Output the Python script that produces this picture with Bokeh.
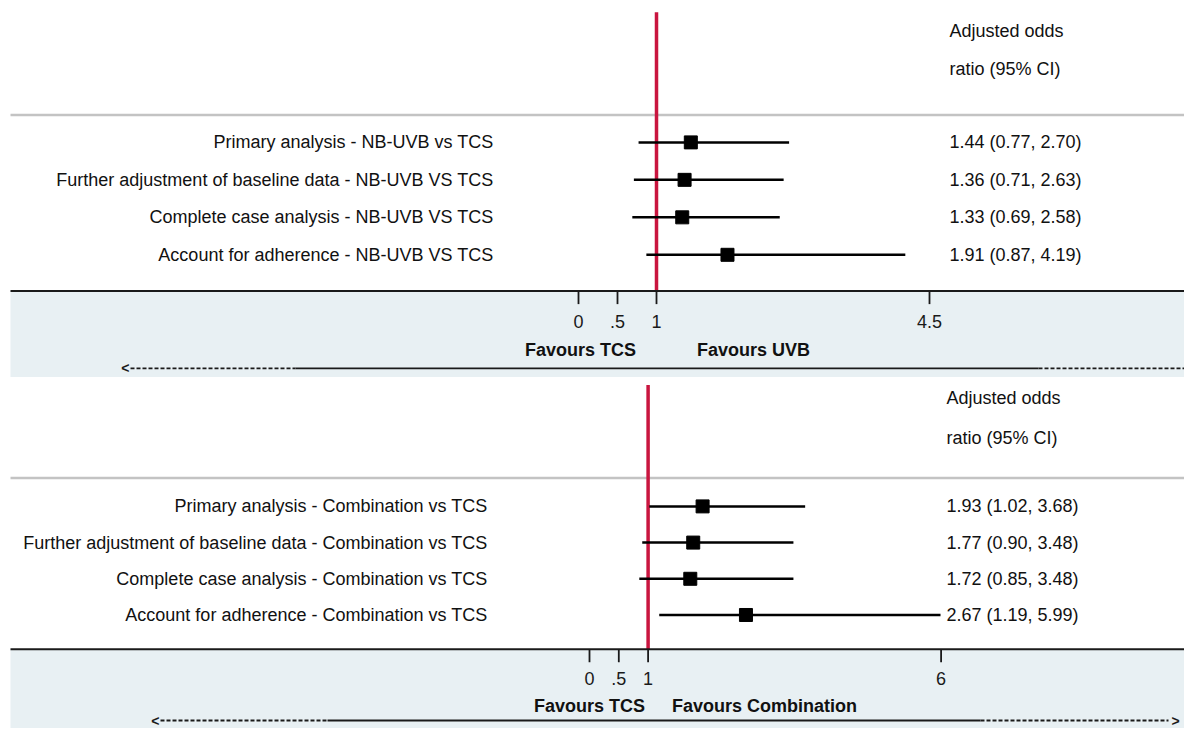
from bokeh.plotting import figure
from bokeh.models import Range1d, ColumnDataSource
from bokeh.layouts import column
from bokeh.embed import file_html
from bokeh.resources import INLINE
from bokeh.core.properties import value

# ---------------- data ----------------
labels_uvb = [
    "Primary analysis - NB-UVB vs TCS",
    "Further adjustment of baseline data - NB-UVB VS TCS",
    "Complete case analysis - NB-UVB VS TCS",
    "Account for adherence - NB-UVB VS TCS",
]
or_uvb = [1.44, 1.36, 1.33, 1.91]
lo_uvb = [0.77, 0.71, 0.69, 0.87]
hi_uvb = [2.70, 2.63, 2.58, 4.19]
ticks_uvb = [0, 0.5, 1, 4.5]
tick_labels_uvb = ["0", ".5", "1", "4.5"]

labels_comb = [
    "Primary analysis - Combination vs TCS",
    "Further adjustment of baseline data - Combination vs TCS",
    "Complete case analysis - Combination vs TCS",
    "Account for adherence - Combination vs TCS",
]
or_comb = [1.93, 1.77, 1.72, 2.67]
lo_comb = [1.02, 0.90, 0.85, 1.19]
hi_comb = [3.68, 3.48, 3.48, 5.99]
ticks_comb = [0, 0.5, 1, 6]
tick_labels_comb = ["0", ".5", "1", "6"]

header = ["Adjusted odds", "ratio (95% CI)"]
favours_uvb = ["Favours TCS", "Favours UVB"]
favours_comb = ["Favours TCS", "Favours Combination"]

W = 1184
TOTAL_H = 728
FONT = "Liberation Sans"
FS = "18px"
PANEL = "#e8f0f3"
RED = "#c9153f"
K = TOTAL_H / 744.0  # vertical compression to fit the window


def panel(labels, ors, los, his, ticks, tlabels, favours, L, top_off, H):
    def Y(r):
        return r * K - top_off

    x0, sc = L["x0"], L["scale"]
    p = figure(width=W, height=H, output_backend="svg", toolbar_location=None,
               x_range=Range1d(-x0 / sc, (W - x0) / sc), y_range=Range1d(H, 0),
               x_axis_location=None, y_axis_location=None,
               min_border=0, min_border_left=0, min_border_right=0,
               min_border_top=0, min_border_bottom=0)
    p.outline_line_color = None
    p.grid.visible = False
    p.background_fill_color = "white"
    p.border_fill_color = "white"
    p.extra_x_ranges = {"px": Range1d(0, W)}

    n = len(labels)
    ys = [Y(L["row0"] + i * L["step"]) for i in range(n)]
    texts = ["%.2f (%.2f, %.2f)" % (o, l, h) for o, l, h in zip(ors, los, his)]
    src = ColumnDataSource(dict(y=ys, o=ors, lo=los, hi=his, lab=labels, txt=texts))
    axis_y = Y(L["axis"])

    # lower shaded panel
    p.quad(left=[10], right=[W], top=[axis_y], bottom=[H], x_range_name="px",
           fill_color=PANEL, line_color=None)
    # header separator
    p.segment(x0=[10], x1=[W], y0=[Y(L["sep"])], y1=[Y(L["sep"])], x_range_name="px",
              line_color="#c3c3c3", line_width=2.5)
    # null line
    p.segment(x0=[1], x1=[1], y0=[Y(L["red_top"])], y1=[axis_y],
              line_color=RED, line_width=3.5)
    # CIs and points
    p.segment(x0="lo", x1="hi", y0="y", y1="y", source=src,
              line_color="#000000", line_width=2.5)
    p.scatter(x="o", y="y", source=src, marker="square", size=13,
              fill_color="#000000", line_color="#000000")
    # axis line
    p.segment(x0=[10], x1=[W], y0=[axis_y], y1=[axis_y], x_range_name="px",
              line_color="#1a1a1a", line_width=2)
    # ticks
    p.segment(x0=ticks, x1=ticks, y0=[axis_y] * len(ticks),
              y1=[axis_y + 13] * len(ticks), line_color="#1a1a1a", line_width=1.8)
    p.text(x=ticks, y=[Y(L["ticklab"])] * len(ticks), text=tlabels,
           text_font=value(FONT), text_font_size=FS, text_color="#1a1a1a",
           text_align="center", text_baseline="middle")
    # row labels
    p.text(x=L["lab_right"], y="y", text="lab", source=src, x_range_name="px",
           text_font=value(FONT), text_font_size=FS, text_color="#111111",
           text_align="right", text_baseline="middle")
    p.text(x=L["val_x"], y="y", text="txt", source=src, x_range_name="px",
           text_font=value(FONT), text_font_size=FS, text_color="#111111",
           text_align="left", text_baseline="middle")
    # header
    p.text(x=[L["val_x"]] * 2, y=[Y(L["head1"]), Y(L["head2"])], text=header,
           x_range_name="px", text_font=value(FONT), text_font_size=FS,
           text_color="#111111", text_align="left", text_baseline="middle")
    # favours
    p.text(x=L["fav_c"], y=[Y(L["fav"])] * 2, text=favours, x_range_name="px",
           text_font=value(FONT), text_font_size=FS, text_font_style="bold",
           text_color="#111111", text_align="center", text_baseline="middle")
    # arrow line
    a = min(Y(L["arrow"]), H - 8)
    d1, s1, s2, d2 = L["arrow_x"]
    p.segment(x0=[d1, s2], x1=[s1, d2], y0=[a, a], y1=[a, a], x_range_name="px",
              line_color="#1a1a1a", line_width=1.8, line_dash="4 2")
    p.segment(x0=[s1], x1=[s2], y0=[a], y1=[a], x_range_name="px",
              line_color="#1a1a1a", line_width=1.8)
    p.text(x=[d1 - 1], y=[a], text=["<"], x_range_name="px",
           text_font=value(FONT), text_font_size="14px", text_font_style="bold",
           text_color="#1a1a1a", text_align="right", text_baseline="middle")
    if L.get("right_arrow"):
        p.text(x=[d2 + 3], y=[a], text=[">"], x_range_name="px",
               text_font=value(FONT), text_font_size="14px", text_font_style="bold",
               text_color="#1a1a1a", text_align="left", text_baseline="middle")
    return p


# layout in reference-pixel units (positions only)
L_top = dict(x0=578, scale=78, red_top=12, head1=31, head2=70, sep=117,
             row0=145, step=38.3, axis=297, ticklab=328, fav=357, arrow=376,
             lab_right=493, val_x=949, fav_c=[580, 753],
             arrow_x=[130, 295, 1038, 1184], right_arrow=False)
L_bot = dict(x0=589, scale=58.6, red_top=393, head1=406, head2=447, sep=488,
             row0=517, step=37.0, axis=663, ticklab=693, fav=721, arrow=741,
             lab_right=487, val_x=946, fav_c=[589, 764],
             arrow_x=[160, 327, 980, 1168], right_arrow=True)

H_top = round(385 * K)
H_bot = TOTAL_H - H_top

p1 = panel(labels_uvb, or_uvb, lo_uvb, hi_uvb, ticks_uvb, tick_labels_uvb,
           favours_uvb, L_top, 0, H_top)
p2 = panel(labels_comb, or_comb, lo_comb, hi_comb, ticks_comb, tick_labels_comb,
           favours_comb, L_bot, H_top, H_bot)

layout = column(p1, p2, spacing=0)
open("out.html", "w").write(file_html(layout, INLINE))
